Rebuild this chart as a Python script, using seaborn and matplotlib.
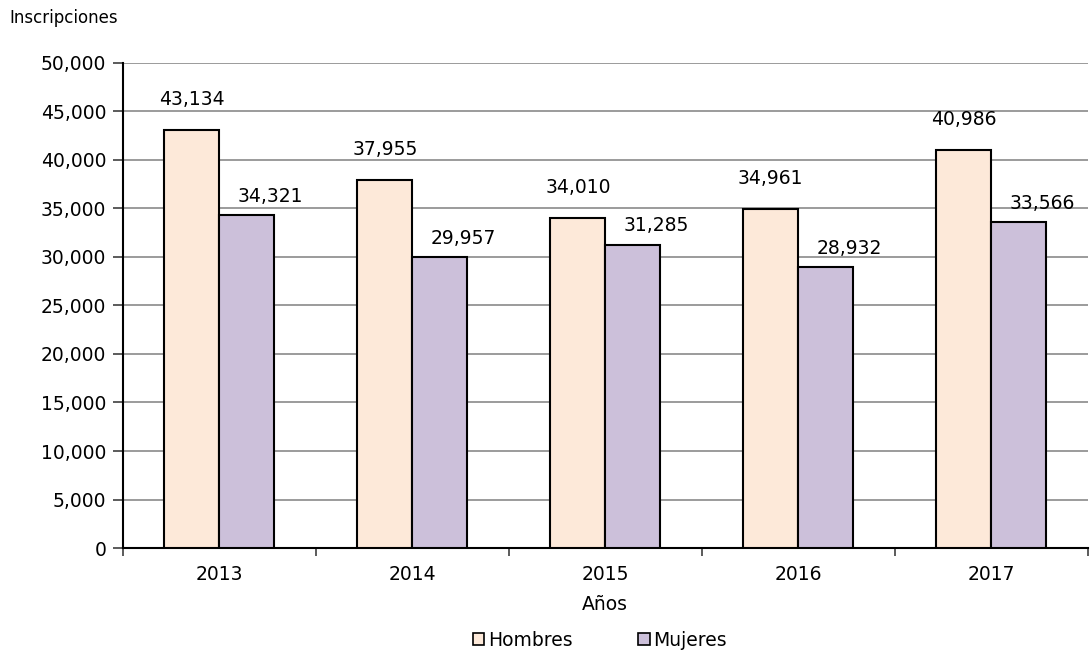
import matplotlib
matplotlib.use("Agg")
import matplotlib.pyplot as plt
import numpy as np
import pandas as pd
import seaborn as sns
from matplotlib.ticker import FuncFormatter, FixedLocator
from matplotlib.patches import Patch

years = ["2013", "2014", "2015", "2016", "2017"]
hombres = [43134, 37955, 34010, 34961, 40986]
mujeres = [34321, 29957, 31285, 28932, 33566]
series_names = ["Hombres", "Mujeres"]
colors = ["#FDE9D9", "#CCC0DA"]

df = pd.DataFrame({
    "Año": years * 2,
    "Inscripciones": hombres + mujeres,
    "Sexo": [series_names[0]] * len(years) + [series_names[1]] * len(years),
})

sns.set_style("white")
plt.rcParams["font.family"] = ["DejaVu Sans"]
plt.rcParams["text.color"] = "black"
plt.rcParams["xtick.color"] = "black"
plt.rcParams["ytick.color"] = "black"
plt.rcParams["axes.labelcolor"] = "black"
fs = 13.5

fig = plt.figure(figsize=(10.91, 6.52), dpi=100)
ax = fig.add_axes([0.1127, 0.1595, 0.8843, 0.7439])

sns.barplot(
    data=df, x="Año", y="Inscripciones", hue="Sexo",
    palette=colors, saturation=1, width=0.57, edgecolor="black",
    linewidth=1.5, ax=ax, legend=False, zorder=3,
)

ax.set_ylim(0, 50000)
ax.set_xlim(-0.5, len(years) - 0.5)
ax.yaxis.set_major_locator(FixedLocator(np.arange(0, 50001, 5000)))
ax.yaxis.set_major_formatter(FuncFormatter(lambda v, p: f"{int(v):,}"))
ax.grid(axis="y", color="#808080", linewidth=1.1, zorder=0)
ax.set_axisbelow(True)

for side in ["top", "right"]:
    ax.spines[side].set_visible(False)
ax.spines["left"].set_color("black")
ax.spines["bottom"].set_color("black")
ax.spines["left"].set_linewidth(1.5)
ax.spines["bottom"].set_linewidth(1.5)

ax.tick_params(axis="y", which="major", length=7, width=1.2, color="#404040",
               direction="out", left=True, labelsize=fs, pad=5)
ax.tick_params(axis="x", which="major", length=0, labelsize=fs, pad=12)
ax.xaxis.set_minor_locator(FixedLocator(np.arange(-0.5, len(years), 1.0)))
ax.tick_params(axis="x", which="minor", length=6, width=1.2, direction="out",
               bottom=True, color="#404040")

ax.set_xlabel("Años", fontsize=fs, labelpad=8)
ax.set_ylabel("")

# value labels
offsets = [(0, 18), (17, 9.5)]
for i, cont in enumerate(ax.containers):
    for bar, val in zip(cont, [hombres, mujeres][i]):
        cx = bar.get_x() + bar.get_width() / 2
        ax.annotate(f"{val:,}", (cx, val), xytext=offsets[i],
                    textcoords="offset points", ha="center", va="baseline",
                    fontsize=fs, zorder=5)

fig.text(0.009, 0.972, "Inscripciones", fontsize=12, ha="left", va="center")

handles = [Patch(facecolor=c, edgecolor="black", linewidth=1.2) for c in colors]
fig.legend(handles, series_names, loc="center", bbox_to_anchor=(0.55, 0.018),
           ncol=2, frameon=False, fontsize=fs, handlelength=0.6,
           handleheight=0.6, handletextpad=0.2, columnspacing=3.5)

fig.savefig("out.png", dpi=100)
